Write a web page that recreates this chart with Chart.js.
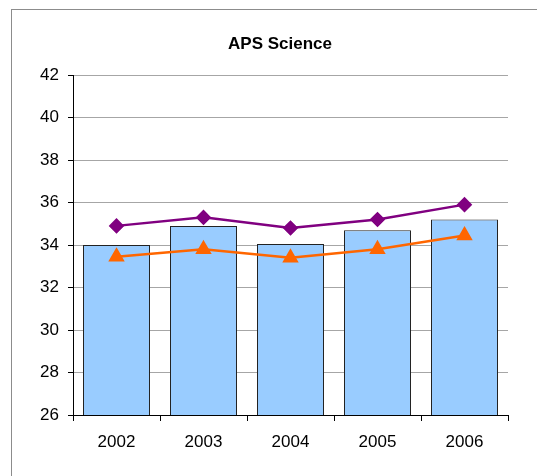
<!DOCTYPE html>
<html>
<head>
<meta charset="utf-8">
<script src="https://cdn.jsdelivr.net/npm/chart.js@4/dist/chart.umd.min.js"></script>
<style>
  html, body { margin: 0; padding: 0; background: #fff; }
  #wrap { width: 537px; height: 476px; }
</style>
</head>
<body>
<div id="wrap"><canvas id="chart"></canvas></div>
<script>
const years = ["2002", "2003", "2004", "2005", "2006"]
const apsBars = [34.0, 34.9, 34.05, 34.7, 35.2]
const purpleLine = [34.9, 35.3, 34.8, 35.2, 35.9]
const orangeLine = [33.45, 33.8, 33.4, 33.8, 34.45]

// grey frame around the chart, like the original picture
const frame = {
  id: 'frame',
  beforeDraw(chart) {
    const ctx = chart.ctx
    ctx.save()
    ctx.strokeStyle = '#8c8c8c'
    ctx.lineWidth = 1
    ctx.strokeRect(11.5, 9.5, 600, 600)
    ctx.restore()
  }
}

Chart.defaults.font.family = "'Liberation Sans', Arial, sans-serif"
Chart.defaults.color = '#000'

new Chart(document.getElementById('chart'), {
  type: 'bar',
  data: {
    labels: years,
    datasets: [
      {
        type: 'line',
        label: 'Series 2',
        data: purpleLine,
        borderColor: '#800080',
        backgroundColor: '#800080',
        borderWidth: 2.5,
        pointStyle: 'rectRot',
        pointRadius: 6,
        pointHoverRadius: 6,
        tension: 0,
        order: 0
      },
      {
        type: 'line',
        label: 'Series 3',
        data: orangeLine,
        borderColor: '#FF6600',
        backgroundColor: '#FF6600',
        borderWidth: 2.5,
        pointStyle: 'triangle',
        pointRadius: 7,
        pointHoverRadius: 7,
        tension: 0,
        order: 0
      },
      {
        label: 'APS',
        data: apsBars,
        backgroundColor: '#99CCFF',
        borderColor: '#222',
        borderWidth: 1,
        categoryPercentage: 1,
        barPercentage: 0.77,
        order: 1
      }
    ]
  },
  options: {
    responsive: true,
    maintainAspectRatio: false,
    animation: false,
    layout: { padding: { left: 23, right: 0, top: 0, bottom: 0 } },
    plugins: {
      legend: { display: false },
      tooltip: { enabled: false },
      title: {
        display: true,
        text: 'APS Science',
        font: { size: 17, weight: 'bold' },
        padding: { top: 34, bottom: 20.6 }
      }
    },
    scales: {
      x: {
        grid: { drawOnChartArea: false, tickLength: 6, color: '#000' },
        border: { color: '#000' },
        ticks: { font: { size: 17 }, padding: 11 },
        afterFit(s) { s.height = 61 }
      },
      y: {
        min: 26,
        max: 42,
        ticks: { stepSize: 2, font: { size: 17 }, padding: 9 },
        grid: {
          color: '#a6a6a6',
          tickLength: 5,
          tickColor: '#000'
        },
        border: { color: '#000' },
        afterFit(s) { s.width = 50 }
      },
      // empty right-hand spacer so the plot ends where the original does
      spacer: {
        type: 'linear',
        position: 'right',
        grid: { display: false },
        ticks: { display: false },
        border: { display: false },
        afterFit(s) { s.width = 29 }
      }
    }
  },
  plugins: [frame]
})
</script>
</body>
</html>
